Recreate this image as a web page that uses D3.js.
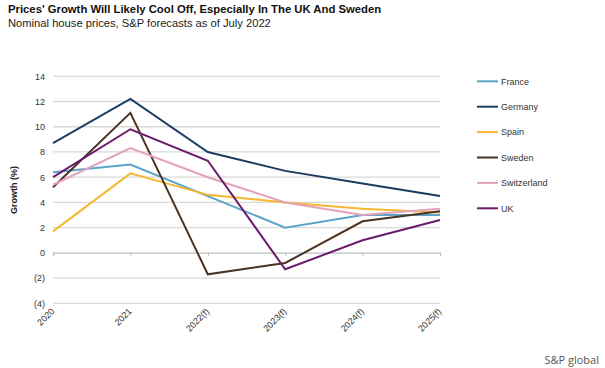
<!DOCTYPE html>
<html><head><meta charset="utf-8">
<script src="https://cdn.jsdelivr.net/npm/d3@7"></script>
<style>body{margin:0;background:#fff;} svg{display:block;font-family:"Liberation Sans",Arial,sans-serif;}</style>
</head><body>
<svg id="c" width="605" height="368"></svg>
<script>
const categories = ["2020","2021","2022(f)","2023(f)","2024(f)","2025(f)"];
const france      = [6.4, 7.0, 4.5, 2.0, 3.0, 3.0];
const germany     = [8.7, 12.2, 8.0, 6.5, 5.5, 4.5];
const spain       = [1.7, 6.3, 4.6, 4.0, 3.5, 3.2];
const sweden      = [5.2, 11.1, -1.7, -0.8, 2.5, 3.3];
const switzerland = [5.4, 8.3, 6.0, 4.0, 3.0, 3.5];
const uk          = [6.0, 9.8, 7.3, -1.3, 1.0, 2.6];
const yTicks = [14, 12, 10, 8, 6, 4, 2, 0, -2, -4];
const seriesNames = ["France","Germany","Spain","Sweden","Switzerland","UK"];
const seriesColors = ["#5ba4c8","#1d3c63","#f6b630","#4b3323","#e3a2bb","#6c1b6c"];
const seriesData = [france, germany, spain, sweden, switzerland, uk];

const svg = d3.select("#c");
const x = d3.scalePoint().domain(categories).range([53, 440]);
const y = d3.scaleLinear().domain([-4, 14]).range([303.3, 76.3]);

svg.append("text").attr("x", 8).attr("y", 13).attr("font-size", 11.3).attr("font-weight", "bold").attr("fill", "#111")
  .text("Prices' Growth Will Likely Cool Off, Especially In The UK And Sweden");
svg.append("text").attr("x", 8).attr("y", 27).attr("font-size", 11.2).attr("fill", "#222")
  .text("Nominal house prices, S&P forecasts as of July 2022");

// gridlines
svg.append("g").selectAll("line").data(yTicks).join("line")
  .attr("x1", 53).attr("x2", 440).attr("y1", d => y(d)).attr("y2", d => y(d))
  .attr("stroke", "#d9d9d9").attr("stroke-width", 1.3);

// y axis labels
const yAxis = d3.axisLeft(y).tickValues(yTicks).tickSize(0).tickPadding(0)
  .tickFormat(d => d < 0 ? "(" + Math.abs(d) + ")" : d);
const yg = svg.append("g").attr("transform", "translate(45,0)").call(yAxis);
yg.select(".domain").remove();
yg.selectAll("text").attr("font-size", 9).attr("fill", "#333").attr("font-family", "Liberation Sans,Arial,sans-serif");

svg.append("text").attr("transform", "translate(17,190) rotate(-90)").attr("text-anchor", "middle")
  .attr("font-size", 9).attr("font-weight", "bold").attr("fill", "#222").text("Growth (%)");

// x axis on zero line
const xAxis = d3.axisBottom(x).tickSize(3).tickFormat("");
const xg = svg.append("g").attr("transform", `translate(0,${y(0)})`).call(xAxis);
xg.select(".domain").attr("stroke", "#d0d0d0").attr("stroke-width", 1.3);
xg.selectAll(".tick line").attr("stroke", "#bbb");

svg.append("g").selectAll("text").data(categories).join("text")
  .attr("transform", d => `translate(${x(d)+2},${312}) rotate(-45)`)
  .attr("text-anchor", "end").attr("font-size", 9).attr("fill", "#333").text(d => d);

// lines
const line = d3.line().x((d, i) => x(categories[i])).y(d => y(d));
svg.append("g").selectAll("path").data(seriesData).join("path")
  .attr("d", line).attr("fill", "none")
  .attr("stroke", (d, i) => seriesColors[i]).attr("stroke-width", 2).attr("stroke-linejoin", "miter");

// legend
const lg = svg.append("g").selectAll("g").data(seriesNames).join("g")
  .attr("transform", (d, i) => `translate(477,${81.3 + i * 25.4})`);
lg.append("line").attr("x1", 0).attr("x2", 21).attr("stroke", (d, i) => seriesColors[i]).attr("stroke-width", 2);
lg.append("text").attr("x", 24).attr("y", 3.3).attr("font-size", 9).attr("fill", "#333").text(d => d);

svg.append("text").attr("x", 599).attr("y", 364).attr("text-anchor", "end").attr("font-size", 11)
  .attr("fill", "#555").attr("font-family", "Open Sans, sans-serif").text("S&P global");
</script>
</body></html>
